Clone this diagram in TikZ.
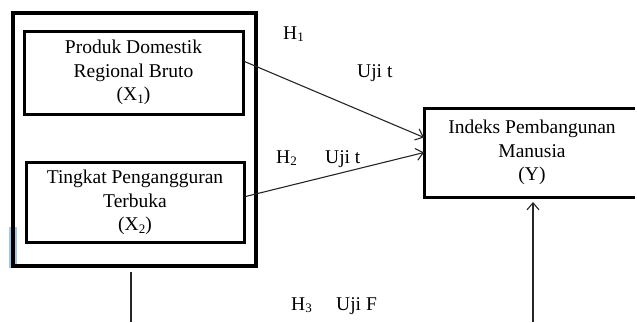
\documentclass[tikz,border=0pt]{standalone}
\usepackage{fontspec}
\setmainfont{Liberation Serif}
\usetikzlibrary{arrows.meta}
\newcommand\lo[1]{\raisebox{-0.3ex}{\fontsize{13}{13}\selectfont #1}}
\tikzset{
  boxnode/.style={draw, line width=3pt, inner sep=0pt, align=center,
    font=\fontsize{19.5}{23.5}\selectfont},
  txt/.style={inner sep=0pt, align=center, font=\fontsize{19.5}{23.5}\selectfont},
  lbl/.style={inner sep=0pt, anchor=base west, font=\fontsize{19.5}{23.5}\selectfont},
  conn/.style={line width=1.1pt, draw=black!85},
  arr/.style={conn, -{Straight Barb[length=7pt,width=12pt,line width=1.1pt]}},
}
\begin{document}
\begin{tikzpicture}[x=1pt,y=-1pt]
\useasboundingbox (0,0) rectangle (637,322);
% blue mark
\fill[fill={rgb,255:red,160;green,200;blue,236}] (9,227) rectangle (17,268);
% outer group box
\node[draw, line width=3.2pt, minimum width=243pt, minimum height=253pt, inner sep=0pt] (outer) at (134.5,139.5) {};
\node[boxnode, minimum width=219pt, minimum height=83pt] (x1) at (133.5,72.5)
  {Produk Domestik\\Regional Bruto\\(X\lo{1})};
\node[boxnode, minimum width=218pt, minimum height=80pt] (x2) at (135,202.5)
  {Tingkat Pengangguran\\Terbuka\\(X\lo{2})};
\coordinate (y) at (532,152.5);
\coordinate (ynw) at (424,108);
\coordinate (ysw) at (424,197);
\coordinate (yne) at (635,108);
\coordinate (yse) at (635,197);
\draw[line width=3pt] (yne) -- (ynw) -- (ysw) -- (yse);
\node[txt] (ytext) at (y) {Indeks Pembangunan\\Manusia\\(Y)};
% connectors
\draw[arr] ([yshift=11pt]x1.east) -- ([yshift=15pt]y -| ynw);
\draw[arr] ([yshift=6pt]x2.east) -- (y -| ynw);
\coordinate (l3top) at (131,272);
\coordinate (l3bot) at (131,322);
\draw[conn] (l3top) -- (l3bot);
\coordinate (a3start) at (533,322);
\coordinate (a3end) at (533,202);
\draw[arr] (a3start) -- (a3end);
% labels
\node[lbl] (h1) at (283,39) {H\lo{1}};
\node[lbl] (u1) at (357,77) {Uji t};
\node[lbl] (h2) at (276,163) {H\lo{2}};
\node[lbl] (u2) at (325,163) {Uji t};
\node[lbl] (h3) at (291,310) {H\lo{3}};
\node[lbl] (uf) at (336,310) {Uji F};
\end{tikzpicture}
\end{document}
